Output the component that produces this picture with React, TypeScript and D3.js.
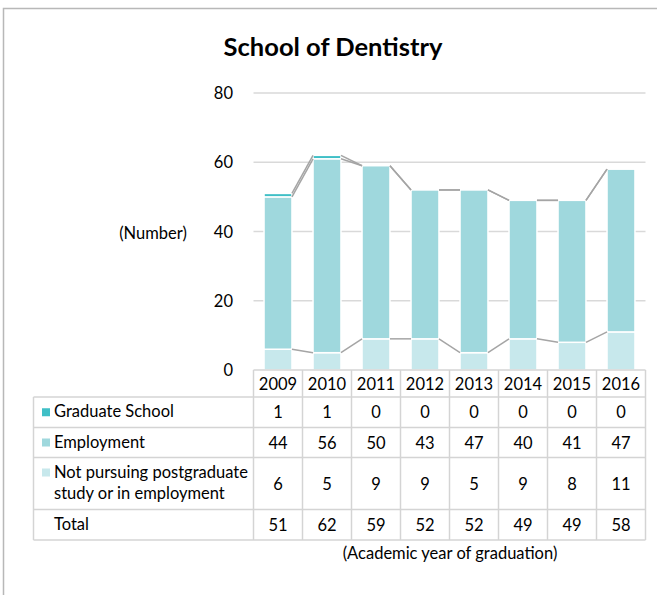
import React from "react";
import * as d3 from "d3";

const years = ["2009", "2010", "2011", "2012", "2013", "2014", "2015", "2016"];
const graduateSchool = [1, 1, 0, 0, 0, 0, 0, 0];
const employment = [44, 56, 50, 43, 47, 40, 41, 47];
const notPursuing = [6, 5, 9, 9, 5, 9, 8, 11];
const totals = [51, 62, 59, 52, 52, 49, 49, 58];
const yTicks = [0, 20, 40, 60, 80];
const seriesNames = ["Graduate School", "Employment", "Not pursuing postgraduate|study or in employment"];
const seriesColors = ["#3fbfc6", "#9fd8dd", "#c7e8ec"];

const FONT = "Lato, 'Open Sans', sans-serif";
const FS = 16.5;
const DY = 2;

export default function App() {
  const W = 657, H = 595;
  const x = d3.scaleBand<string>().domain(years).range([253.5, 645.5]).paddingInner(0).paddingOuter(0);
  const y = d3.scaleLinear().domain([0, 80]).range([370, 93]);
  const barW = x.bandwidth() * 0.57;

  const rows = years.map((yr, i) => ({ yr, np: notPursuing[i], emp: employment[i], gs: graduateSchool[i] }));
  const stack = d3.stack<any>().keys(["np", "emp", "gs"])(rows);
  const colorByKey: Record<string, string> = { np: seriesColors[2], emp: seriesColors[1], gs: seriesColors[0] };

  const cx = (yr: string) => (x(yr) as number) + x.bandwidth() / 2;

  const gridColor = "#d9d9d9";
  const tableColor = "#d4d4d4";
  const tableLeft = 33.5;
  const tableRight = 645.5;
  const rowY = [370, 397, 427.5, 457.5, 509.5, 540];

  const tableRows = [
    { label: seriesNames[0], values: graduateSchool, color: seriesColors[0] },
    { label: seriesNames[1], values: employment, color: seriesColors[1] },
    { label: seriesNames[2], values: notPursuing, color: seriesColors[2] },
    { label: "Total", values: totals, color: null as string | null },
  ];

  return (
    <svg width={W} height={H} style={{ position: "absolute", left: 0, top: 0 }} fontFamily={FONT}>
      <rect x={0} y={0} width={W} height={H} fill="#fff" />
      <path d={`M3.5,${H + 2} V8.5 H${W + 2}`} fill="none" stroke="#b8b8b8" strokeWidth={1.5} />

      <text x={333} y={47 + DY} textAnchor="middle" dominantBaseline="middle" fontSize={25.5} fontWeight="bold" fill="#000">
        School of Dentistry
      </text>

      {yTicks.filter((t) => t > 0).map((t) => (
        <line key={t} x1={253.5} x2={645.5} y1={y(t)} y2={y(t)} stroke={gridColor} strokeWidth={1.5} />
      ))}
      {yTicks.map((t) => (
        <text key={"l" + t} x={233} y={y(t) + DY} textAnchor="end" dominantBaseline="middle" fontSize={FS} fill="#000">
          {t}
        </text>
      ))}
      <text x={153} y={233 + DY} textAnchor="middle" dominantBaseline="middle" fontSize={FS} fill="#000">
        (Number)
      </text>

      {stack.map((layer) =>
        layer.map((d, i) => {
          const h = y(d[0]) - y(d[1]);
          if (h <= 0) return null;
          return (
            <rect
              key={layer.key + i}
              x={cx(years[i]) - barW / 2}
              y={y(d[1])}
              width={barW}
              height={h}
              fill={colorByKey[layer.key]}
              stroke="#fff"
              strokeWidth={1.5}
            />
          );
        })
      )}

      {stack.map((layer) =>
        layer.slice(0, -1).map((d, i) => {
          const n = layer[i + 1];
          return (
            <line
              key={"s" + layer.key + i}
              x1={cx(years[i]) + barW / 2}
              y1={y(d[1])}
              x2={cx(years[i + 1]) - barW / 2}
              y2={y(n[1])}
              stroke="#a5a5a5"
              strokeWidth={1.5}
            />
          );
        })
      )}

      <g stroke={tableColor} strokeWidth={1.5} fill="none">
        <line x1={253.5} x2={tableRight} y1={rowY[0]} y2={rowY[0]} />
        {rowY.slice(1).map((ry, k) => (
          <line key={"h" + k} x1={tableLeft} x2={tableRight} y1={ry} y2={ry} />
        ))}
        <line x1={tableLeft} x2={tableLeft} y1={rowY[1]} y2={rowY[5]} />
        {years.map((yr) => (
          <line key={"v" + yr} x1={x(yr) as number} x2={x(yr) as number} y1={rowY[0]} y2={rowY[5]} />
        ))}
        <line x1={tableRight} x2={tableRight} y1={rowY[0]} y2={rowY[5]} />
      </g>
      {years.map((yr) => (
        <text key={"y" + yr} x={cx(yr)} y={(rowY[0] + rowY[1]) / 2 + DY} textAnchor="middle" dominantBaseline="middle" fontSize={FS} fill="#000">
          {yr}
        </text>
      ))}
      {tableRows.map((r, k) => {
        const top = rowY[k + 1];
        const bot = rowY[k + 2];
        const mid = (top + bot) / 2;
        const lines = r.label.split("|");
        return (
          <g key={"r" + k}>
            {r.color && (
              <rect x={42} y={(lines.length > 1 ? top + 15 : mid) - 4} width={8} height={8} fill={r.color} />
            )}
            {lines.map((ln, j) => (
              <text
                key={j}
                x={54}
                y={(lines.length > 1 ? top + 15 + j * 21 : mid) + DY - 1}
                dominantBaseline="middle"
                fontSize={FS}
                fill="#000"
              >
                {ln}
              </text>
            ))}
            {r.values.map((v, i) => (
              <text key={i} x={cx(years[i])} y={mid + DY} textAnchor="middle" dominantBaseline="middle" fontSize={FS} fill="#000">
                {v}
              </text>
            ))}
          </g>
        );
      })}
      <text x={450} y={553 + DY} textAnchor="middle" dominantBaseline="middle" fontSize={FS} fill="#000">
        (Academic year of graduation)
      </text>
    </svg>
  );
}
